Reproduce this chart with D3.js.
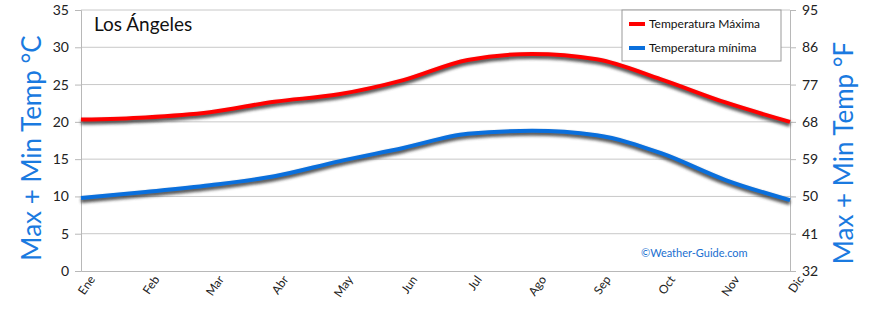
<!DOCTYPE html>
<html>
<head>
<meta charset="utf-8">
<script src="https://cdn.jsdelivr.net/npm/d3@7"></script>
<style>
  body { margin: 0; background: #fff; }
  svg text { font-family: "Comic Sans MS", "Lato", "DejaVu Sans", sans-serif; }
</style>
</head>
<body>
<div id="chart"></div>
<script>
var months = ['Ene', 'Feb', 'Mar', 'Abr', 'May', 'Jun', 'Jul', 'Ago', 'Sep', 'Oct', 'Nov', 'Dic'];
var maxTemp = [20.3, 20.6, 21.3, 22.7, 23.7, 25.6, 28.3, 29.1, 28.4, 25.7, 22.6, 20.0];
var minTemp = [9.8, 10.6, 11.5, 12.7, 14.7, 16.5, 18.4, 18.8, 18.2, 15.8, 12.2, 9.5];
var cTicks = [0, 5, 10, 15, 20, 25, 30, 35];
var fTicks = [32, 41, 50, 59, 68, 77, 86, 95];

var width = 870, height = 312;
var margin = {top: 10, right: 80, bottom: 41, left: 81};

var svg = d3.select('#chart').append('svg')
  .attr('width', width)
  .attr('height', height);

var defs = svg.append('defs');
defs.append('filter').attr('id', 'shadow')
  .attr('x', '-5%').attr('y', '-20%').attr('width', '110%').attr('height', '140%')
  .append('feGaussianBlur').attr('stdDeviation', 1.4);

var x = d3.scalePoint()
  .domain(months)
  .range([margin.left, width - margin.right]);
var y = d3.scaleLinear()
  .domain([0, 35])
  .range([height - margin.bottom, margin.top]);
var yF = d3.scaleLinear()
  .domain([32, 95])
  .range([height - margin.bottom, margin.top]);

// grid
svg.append('g')
  .selectAll('line')
  .data(cTicks.slice(1))
  .enter().append('line')
    .attr('x1', margin.left)
    .attr('x2', width - margin.right)
    .attr('y1', function(d) { return y(d); })
    .attr('y2', function(d) { return y(d); })
    .attr('stroke', '#c8c8c8')
    .attr('stroke-width', 1);

// frame axes
var leftAxis = svg.append('g')
  .attr('transform', 'translate(' + margin.left + ',0)')
  .call(d3.axisLeft(y).tickValues(cTicks).tickSize(6).tickPadding(6));
var rightAxis = svg.append('g')
  .attr('transform', 'translate(' + (width - margin.right) + ',0)')
  .call(d3.axisRight(yF).tickValues(fTicks).tickSize(6).tickPadding(6));
var bottomAxis = svg.append('g')
  .attr('transform', 'translate(0,' + (height - margin.bottom) + ')')
  .call(d3.axisBottom(x).tickSize(0).tickPadding(8));

[leftAxis, rightAxis, bottomAxis].forEach(function(a) {
  a.select('.domain').attr('stroke', '#b8b8b8');
  a.selectAll('.tick line').attr('stroke', '#b8b8b8');
  a.selectAll('text').attr('fill', '#222').style('font-size', '14px');
});
bottomAxis.selectAll('text')
  .style('font-size', '12px')
  .attr('text-anchor', 'end')
  .attr('dx', '0.1em')
  .attr('dy', '0.7em')
  .attr('transform', 'rotate(-55)');

// lines
var line = d3.line()
  .x(function(d, i) { return x(months[i]); })
  .y(function(d) { return y(d); })
  .curve(d3.curveMonotoneX);

var series = [
  {values: maxTemp, color: '#ff0000'},
  {values: minTemp, color: '#0a6fdc'}
];

series.forEach(function(s) {
  svg.append('path')
    .attr('d', line(s.values))
    .attr('transform', 'translate(0,2.5)')
    .attr('fill', 'none')
    .attr('stroke', '#3a3a3a')
    .attr('stroke-width', 5)
    .attr('opacity', 0.85)
    .attr('filter', 'url(#shadow)');
  svg.append('path')
    .attr('d', line(s.values))
    .attr('fill', 'none')
    .attr('stroke', s.color)
    .attr('stroke-width', 4);
});

// title
svg.append('text')
  .attr('x', 94).attr('y', 31)
  .style('font-size', '19px')
  .attr('fill', '#111')
  .text('Los Ángeles');

// axis titles
svg.append('text')
  .attr('transform', 'translate(41,148) rotate(-90)')
  .attr('text-anchor', 'middle')
  .style('font-size', '26px')
  .attr('fill', '#1a7ae0')
  .text('Max + Min Temp °C');
svg.append('text')
  .attr('transform', 'translate(853,153) rotate(-90)')
  .attr('text-anchor', 'middle')
  .style('font-size', '26px')
  .attr('fill', '#1a7ae0')
  .text('Max + Min Temp °F');

// legend
var legend = svg.append('g').attr('transform', 'translate(622,10)');
legend.append('rect')
  .attr('width', 159).attr('height', 51)
  .attr('fill', '#fff')
  .attr('stroke', '#999');
var legendItems = [
  {label: 'Temperatura Máxima', color: '#ff0000'},
  {label: 'Temperatura mínima', color: '#0a6fdc'}
];
legendItems.forEach(function(d, i) {
  legend.append('line')
    .attr('x1', 7).attr('x2', 23)
    .attr('y1', 14 + i * 24).attr('y2', 14 + i * 24)
    .attr('stroke', d.color).attr('stroke-width', 4);
  legend.append('text')
    .attr('x', 27).attr('y', 14 + i * 24)
    .attr('dy', '0.35em')
    .style('font-size', '12px')
    .attr('fill', '#111')
    .text(d.label);
});

// watermark
svg.append('text')
  .attr('x', 641).attr('y', 257)
  .style('font-size', '11px')
  .attr('fill', '#1a6fd0')
  .text('©Weather-Guide.com');
</script>
</body>
</html>
